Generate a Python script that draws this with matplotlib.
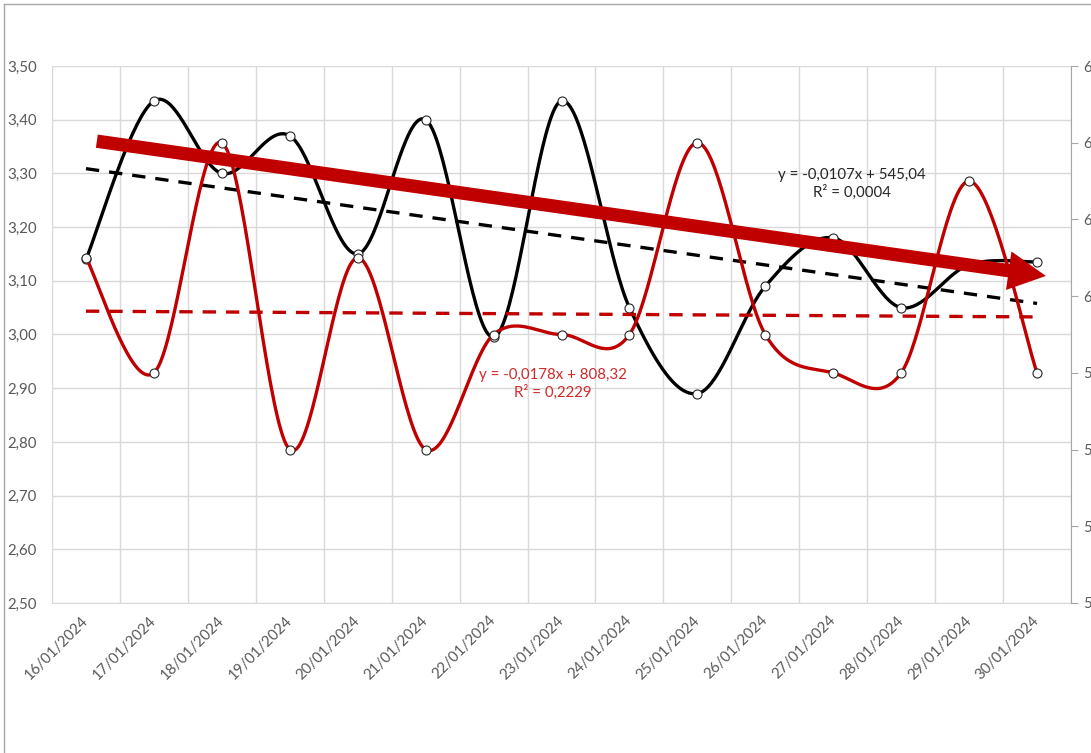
import numpy as np
import matplotlib
matplotlib.use("Agg")
import matplotlib.pyplot as plt
from matplotlib.patches import FancyArrowPatch
from matplotlib.lines import Line2D

# ---- data -------------------------------------------------------------
dates = ["16/01/2024", "17/01/2024", "18/01/2024", "19/01/2024", "20/01/2024",
         "21/01/2024", "22/01/2024", "23/01/2024", "24/01/2024", "25/01/2024",
         "26/01/2024", "27/01/2024", "28/01/2024", "29/01/2024", "30/01/2024"]
price = [3.14, 3.435, 3.30, 3.37, 3.15, 3.40, 2.995, 3.435, 3.05, 2.89,
         3.09, 3.18, 3.05, 3.13, 3.135]
volume = [61, 58, 64, 56, 61, 56, 59, 59, 59, 64, 59, 58, 58, 63, 58]

left_ticks = [2.50, 2.60, 2.70, 2.80, 2.90, 3.00, 3.10, 3.20, 3.30, 3.40, 3.50]
right_ticks = [52, 54, 56, 58, 60, 62, 64, 66]

price_trend_label = "y = -0,0178x + 808,32\nR² = 0,2229"
volume_trend_label = "y = -0,0107x + 545,04\nR² = 0,0004"

# ---- style ------------------------------------------------------------
plt.rcParams["font.family"] = ["Lato", "DejaVu Sans"]
BLACK = "#000000"
RED = "#C00000"
GRID = "#D9D9D9"
LABEL = "#595959"
AXIS = "#A6A6A6"
FS = 10.8


def smooth(y, n=40):
    """Bezier smoothing through every point (control points at 1/6 of the
    neighbour difference), like a spreadsheet 'smoothed line'."""
    y = np.asarray(y, float)
    x = np.arange(len(y), dtype=float)
    px = np.concatenate([[x[0]], x, [x[-1]]])
    py = np.concatenate([[y[0]], y, [y[-1]]])
    t = np.linspace(0, 1, n)
    xs, ys = [], []
    for i in range(len(y) - 1):
        p0 = np.array([px[i], py[i]])
        p1 = np.array([px[i + 1], py[i + 1]])
        p2 = np.array([px[i + 2], py[i + 2]])
        p3 = np.array([px[i + 3], py[i + 3]])
        c1 = p1 + (p2 - p0) / 6.0
        c2 = p2 - (p3 - p1) / 6.0
        b = ((1 - t) ** 3)[:, None] * p1 + (3 * (1 - t) ** 2 * t)[:, None] * c1 \
            + (3 * (1 - t) * t ** 2)[:, None] * c2 + (t ** 3)[:, None] * p2
        xs.append(b[:, 0])
        ys.append(b[:, 1])
    return np.concatenate(xs), np.concatenate(ys)


fig = plt.figure(figsize=(10.91, 7.53), dpi=100)
W, H = 1091, 753
L, R, T, B = 52, 1071, 66, 603
ax = fig.add_axes([L / W, 1 - B / H, (R - L) / W, (B - T) / H])
ax2 = ax.twinx()

idx = np.arange(len(dates))

# grid and axes of the left (price) scale
ax.set_xlim(-0.5, len(dates) - 0.5)
ax.set_ylim(2.5, 3.5)
ax.set_yticks(left_ticks)
ax.set_yticklabels([f"{v:.2f}".replace(".", ",") for v in left_ticks])
ax.set_xticks(idx)
ax.set_xticklabels(dates, rotation=45, ha="right", va="center",
                   rotation_mode="anchor")
ax.set_xticks(np.arange(-0.5, len(dates), 1.0), minor=True)
ax.grid(True, which="major", axis="y", color=GRID, lw=1.0)
ax.grid(True, which="minor", axis="x", color=GRID, lw=1.0)
ax.tick_params(axis="both", which="both", length=0, colors=LABEL,
               labelsize=FS)
ax.tick_params(axis="y", pad=11)
ax.tick_params(axis="x", pad=11)
for s in ("left", "right", "top"):
    ax.spines[s].set_visible(False)
ax.spines["bottom"].set_color(GRID)
ax.set_axisbelow(True)

# right (volume) scale
ax2.set_ylim(52, 66)
ax2.set_yticks(right_ticks)
ax2.set_yticklabels([str(v) for v in right_ticks])
ax2.tick_params(axis="y", length=5, color=AXIS, colors=LABEL, labelsize=FS,
                pad=4)
ax2.tick_params(axis="y", which="major", color=AXIS)
for s in ("left", "top", "bottom"):
    ax2.spines[s].set_visible(False)
ax2.spines["right"].set_color(AXIS)

# smoothed series
bx, by = smooth(price)
ax.plot(bx, by, color=BLACK, lw=2.4, solid_capstyle="round", zorder=3)
ax.plot(idx, price, ls="none", marker="o", ms=6.5, mfc="white", mec="#262626",
        mew=0.8, zorder=4)

rx, ry = smooth(volume)
ax2.plot(rx, ry, color=RED, lw=2.4, solid_capstyle="round", zorder=3)
ax2.plot(idx, volume, ls="none", marker="o", ms=6.5, mfc="white",
         mec="#262626", mew=0.8, zorder=4)

# linear trend lines
pc = np.polyfit(idx, price, 1)
ax.plot(idx[[0, -1]], np.polyval(pc, idx[[0, -1]]), color=BLACK, lw=2.4,
        ls=(0, (4, 3)), zorder=2)
vc = np.polyfit(idx, volume, 1)
ax2.plot(idx[[0, -1]], np.polyval(vc, idx[[0, -1]]), color=RED, lw=2.4,
         ls=(0, (4, 3)), zorder=2)

# trend equations
ax.text(6.87, 2.908, price_trend_label, color="#D02A2A", fontsize=FS,
        ha="center", va="center", multialignment="center", zorder=5)
ax.text(11.28, 3.28, volume_trend_label, color="#262626", fontsize=FS,
        ha="center", va="center", multialignment="center", zorder=5)

# downward trend arrow
arrow = FancyArrowPatch((0.16, 3.36), (14.13, 3.109),
                        transform=ax.transData,
                        arrowstyle="simple,head_length=27,head_width=28,tail_width=9.6",
                        mutation_scale=1, shrinkA=0, shrinkB=0,
                        color=RED, lw=0, zorder=10, clip_on=False)
ax2.add_patch(arrow)

# chart-area frame
fig.add_artist(Line2D([4 / W, 1], [1 - 4 / H, 1 - 4 / H], color=AXIS, lw=1.0,
                      transform=fig.transFigure))
fig.add_artist(Line2D([4 / W, 4 / W], [0, 1 - 4 / H], color=AXIS, lw=1.0,
                      transform=fig.transFigure))

fig.savefig("out.png", dpi=100)
